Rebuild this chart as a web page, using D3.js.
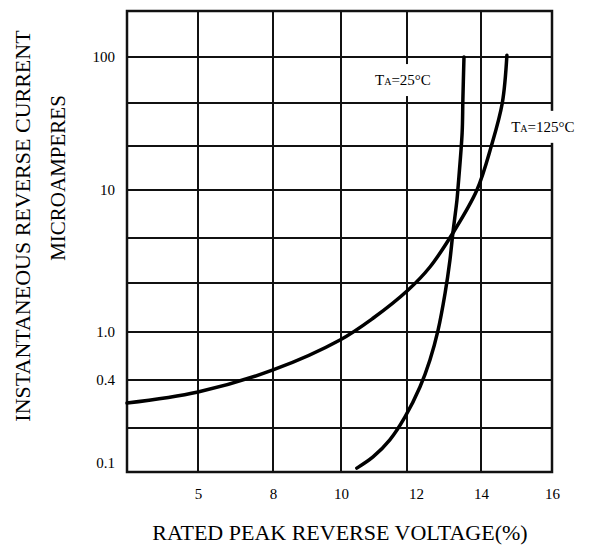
<!DOCTYPE html>
<html>
<head>
<meta charset="utf-8">
<script src="https://cdn.jsdelivr.net/npm/d3@7"></script>
<style>
  body { margin: 0; background: #fff; }
  svg { display: block; font-family: "Liberation Serif", "Times New Roman", serif; }
</style>
</head>
<body>
<svg id="chart" width="593" height="547"></svg>
<script>
// x grid (left edge is unlabeled) and tick labels
const xGrid = [2, 5, 8, 10, 12, 14, 16];
const xTicks = [5, 8, 10, 12, 14, 16];

// y grid: three divisions per decade
const yGrid = d3.range(-3, 8).map(k => Math.pow(10, k / 3));
const yTickValues = [0.1, Math.pow(10, -1 / 3), 1, 10, 100];
const yTickLabels = ["0.1", "0.4", "1.0", "10", "100"];

// TA = 25°C
const volt25 = [10.48, 10.97, 11.48, 11.94, 12.35, 12.62, 12.84, 13.03, 13.16, 13.24, 13.35, 13.38, 13.49, 13.51, 13.54];
const curr25 = [0.107, 0.130, 0.175, 0.257, 0.415, 0.64, 1.03, 1.84, 3.18, 5.03, 8.5, 10.5, 27.2, 48.9, 100];

// TA = 125°C
const volt125 = [2, 5, 8, 9.97, 10.97, 12.03, 12.62, 13.24, 13.89, 14.29, 14.6, 14.73];
const curr125 = [0.321, 0.383, 0.545, 0.88, 1.24, 1.93, 2.83, 5.03, 10, 21.5, 46.4, 103];

const svg = d3.select("#chart");

// grid of the original sheet is hand drawn, so the scales follow its lines
const x = d3.scaleLinear()
  .domain(xGrid)
  .range([127, 198, 273, 341, 407, 481, 552]);

const y = d3.scaleLog()
  .domain(yGrid)
  .range([472, 428, 380, 332, 283, 238, 190, 146, 103, 57, 11]);

const [x0, x1] = [x(xGrid[0]), x(xGrid[xGrid.length - 1])];
const [y0, y1] = [y(yGrid[0]), y(yGrid[yGrid.length - 1])];

// Grid
const grid = svg.append("g").attr("stroke", "#111").attr("stroke-width", 2);
grid.selectAll("line.v")
  .data(xGrid.slice(1, -1))
  .enter()
  .append("line")
  .attr("class", "v")
  .attr("x1", d => x(d)).attr("x2", d => x(d))
  .attr("y1", y1).attr("y2", y0);

grid.selectAll("line.h")
  .data(yGrid.slice(1, -1))
  .enter()
  .append("line")
  .attr("class", "h")
  .attr("x1", x0).attr("x2", x1)
  .attr("y1", d => y(d)).attr("y2", d => y(d));

// Border
svg.append("rect")
  .attr("x", x0).attr("y", y1)
  .attr("width", x1 - x0).attr("height", y0 - y1)
  .attr("fill", "none")
  .attr("stroke", "#111")
  .attr("stroke-width", 2.5);

// Curves
const line = d3.line()
  .x(d => x(d[0]))
  .y(d => y(d[1]))
  .curve(d3.curveCatmullRom.alpha(0.5));

[[volt25, curr25], [volt125, curr125]].forEach(([v, c]) => {
  svg.append("path")
    .datum(v.map((d, i) => [d, c[i]]))
    .attr("d", line)
    .attr("fill", "none")
    .attr("stroke", "#000")
    .attr("stroke-width", 3.5)
    .attr("stroke-linecap", "round");
});

// Curve labels with white boxes
function curveLabel(vx, cy, temp) {
  const g = svg.append("g");
  const t = g.append("text")
    .attr("x", x(vx))
    .attr("y", y(cy))
    .attr("dy", "0.33em")
    .style("font-size", "15px");
  t.append("tspan").text("T");
  t.append("tspan").text("A").style("font-size", "10px");
  t.append("tspan").text("=" + temp + "°C");
  const b = t.node().getBBox();
  g.insert("rect", "text")
    .attr("x", b.x - 3).attr("y", b.y - 8)
    .attr("width", b.width + 6).attr("height", b.height + 16)
    .attr("fill", "#fff");
}
curveLabel(11.03, 68, 25);
curveLabel(14.85, 30.3, 125);

// Axes
const yAxis = svg.append("g")
  .attr("transform", `translate(${x0},0)`)
  .call(d3.axisLeft(y).tickValues(yTickValues).tickFormat((d, i) => yTickLabels[i]).tickSize(0).tickPadding(12));
yAxis.select(".domain").remove();
yAxis.selectAll("text")
  .attr("font-family", "Liberation Serif, serif")
  .attr("font-size", 15)
  .attr("fill", "#000");
yAxis.selectAll("text").filter(d => d === 0.1).attr("y", -9);

const xAxis = svg.append("g")
  .attr("transform", `translate(0,${y0})`)
  .call(d3.axisBottom(x).tickValues(xTicks).tickSize(0).tickPadding(16));
xAxis.select(".domain").remove();
xAxis.selectAll("text")
  .attr("font-family", "Liberation Serif, serif")
  .attr("font-size", 15)
  .attr("fill", "#000");
xAxis.selectAll("text").filter(d => d === 12).attr("x", 9);

// Titles
svg.append("text")
  .attr("x", 340)
  .attr("y", 540)
  .attr("text-anchor", "middle")
  .style("font-size", "22px")
  .text("RATED PEAK REVERSE VOLTAGE(%)");

svg.append("text")
  .attr("transform", "translate(30,226) rotate(-90)")
  .attr("text-anchor", "middle")
  .style("font-size", "22px")
  .text("INSTANTANEOUS REVERSE CURRENT");

svg.append("text")
  .attr("transform", "translate(65,178) rotate(-90)")
  .attr("text-anchor", "middle")
  .style("font-size", "21px")
  .text("MICROAMPERES");
</script>
</body>
</html>
